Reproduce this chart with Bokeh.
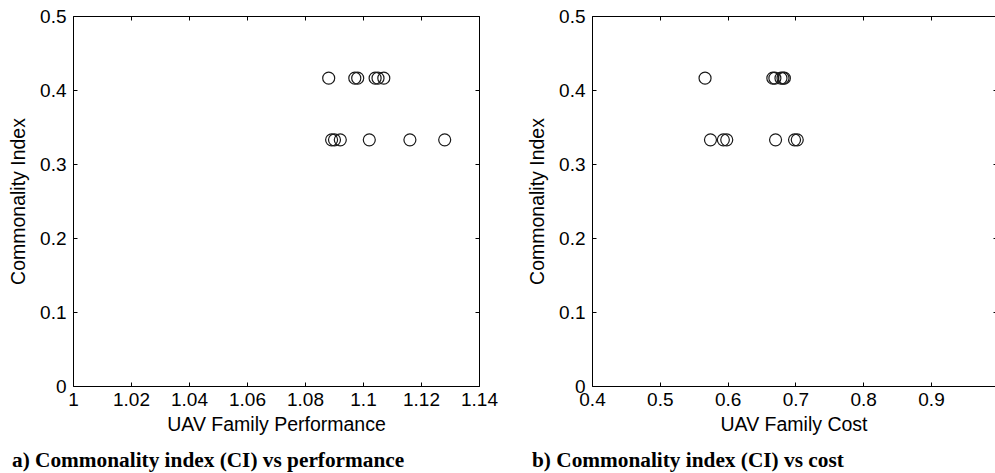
from bokeh.plotting import figure
from bokeh.layouts import row, column
from bokeh.models import FixedTicker, LinearAxis, Range1d, Div
from bokeh.embed import file_html
from bokeh.resources import INLINE

# Panel a) Commonality index vs UAV family performance
perf_x = [1.088, 1.097, 1.098, 1.104, 1.105, 1.107,
          1.089, 1.090, 1.092, 1.102, 1.116, 1.128]
perf_ci = [0.4167, 0.4167, 0.4167, 0.4167, 0.4167, 0.4167,
           0.3333, 0.3333, 0.3333, 0.3333, 0.3333, 0.3333]

# Panel b) Commonality index vs UAV family cost
cost_x = [0.566, 0.666, 0.669, 0.678, 0.681, 0.683,
          0.574, 0.593, 0.598, 0.670, 0.698, 0.702]
cost_ci = [0.4167, 0.4167, 0.4167, 0.4167, 0.4167, 0.4167,
           0.3333, 0.3333, 0.3333, 0.3333, 0.3333, 0.3333]

y_ticks = [0, 0.1, 0.2, 0.3, 0.4, 0.5]
y_tick_labels = ["0", "0.1", "0.2", "0.3", "0.4", "0.5"]
perf_ticks = [1.0, 1.02, 1.04, 1.06, 1.08, 1.10, 1.12, 1.14]
perf_tick_labels = ["1", "1.02", "1.04", "1.06", "1.08", "1.1", "1.12", "1.14"]
cost_ticks = [0.4, 0.5, 0.6, 0.7, 0.8, 0.9, 1.0]
cost_tick_labels = ["0.4", "0.5", "0.6", "0.7", "0.8", "0.9", "1"]

captions = ["a) Commonality index (CI) vs performance",
            "b) Commonality index (CI) vs cost"]

FONT = "Liberation Sans"
TICK_SIZE = "19px"
LABEL_SIZE = "19.5px"


def style_axis(ax, ticks, labels, show_labels=True, line=True, tick_len=4):
    ax.ticker = FixedTicker(ticks=ticks)
    if show_labels:
        ax.major_label_overrides = {t: l for t, l in zip(ticks, labels)}
    else:
        ax.major_label_overrides = {t: "" for t in ticks}
        ax.major_label_standoff = 0
    ax.minor_tick_line_color = None
    ax.major_tick_in = tick_len
    ax.major_tick_out = 0
    ax.major_tick_line_color = "black"
    ax.major_tick_line_width = 1
    ax.axis_line_color = "black" if line else None
    ax.axis_line_width = 1
    ax.major_label_text_font = FONT
    ax.major_label_text_color = "black"
    ax.major_label_text_font_size = TICK_SIZE


def make_panel(x, y, xr, xticks, xlabels, xlabel, width, bl, br, right_line=True, right_tick=4):
    p = figure(width=width, height=450, output_backend="svg", toolbar_location=None,
               x_range=Range1d(*xr), y_range=Range1d(0, 0.5),
               min_border_left=bl, min_border_right=br, min_border_top=16, min_border_bottom=64,
               x_axis_location=None, y_axis_location=None)
    p.grid.visible = False
    p.outline_line_color = None
    p.background_fill_color = "white"
    p.border_fill_color = "white"

    bottom = LinearAxis(axis_label=xlabel)
    left = LinearAxis(axis_label="Commonality Index")
    top = LinearAxis()
    right = LinearAxis()
    style_axis(bottom, xticks, xlabels)
    style_axis(top, xticks, xlabels, show_labels=False)
    style_axis(left, y_ticks, y_tick_labels)
    style_axis(right, y_ticks, y_tick_labels, show_labels=False, line=right_line, tick_len=right_tick)
    bottom.major_label_standoff = 6
    left.major_label_standoff = 7
    for ax in (bottom, left):
        ax.axis_label_text_font = FONT
        ax.axis_label_text_font_size = LABEL_SIZE
        ax.axis_label_text_font_style = "normal"
        ax.axis_label_text_color = "black"
    bottom.axis_label_standoff = 4
    left.axis_label_standoff = 8
    p.add_layout(bottom, "below")
    p.add_layout(left, "left")
    p.add_layout(top, "above")
    p.add_layout(right, "right")

    p.scatter(x, y, size=12, marker="circle", fill_color=None,
              line_color="#1a1a1a", line_width=1.2)
    return p


def caption_div(text, width, pad):
    return Div(text=text, width=width, height=23,
               styles={"overflow": "hidden", "font-family": "'Liberation Serif'",
                       "font-weight": "bold", "font-size": "21.3px", "line-height": "1",
                       "color": "black", "padding-left": f"{pad}px", "white-space": "nowrap",
                       "box-sizing": "border-box", "margin": "0"})


p1 = make_panel(perf_x, perf_ci, (1.0, 1.14), perf_ticks, perf_tick_labels,
                "UAV Family Performance", width=500, bl=73, br=21)
p2 = make_panel(cost_x, cost_ci, (0.4, 0.4 + (995 - 592) / 678.0), cost_ticks, cost_tick_labels,
                "UAV Family Cost", width=495, bl=92, br=0, right_line=False, right_tick=2)

d1 = caption_div(captions[0], 500, 12)
d2 = caption_div(captions[1], 495, 32)

layout = column(row(p1, p2, spacing=0), row(d1, d2, spacing=0), spacing=0)
open("out.html", "w").write(file_html(layout, INLINE))
